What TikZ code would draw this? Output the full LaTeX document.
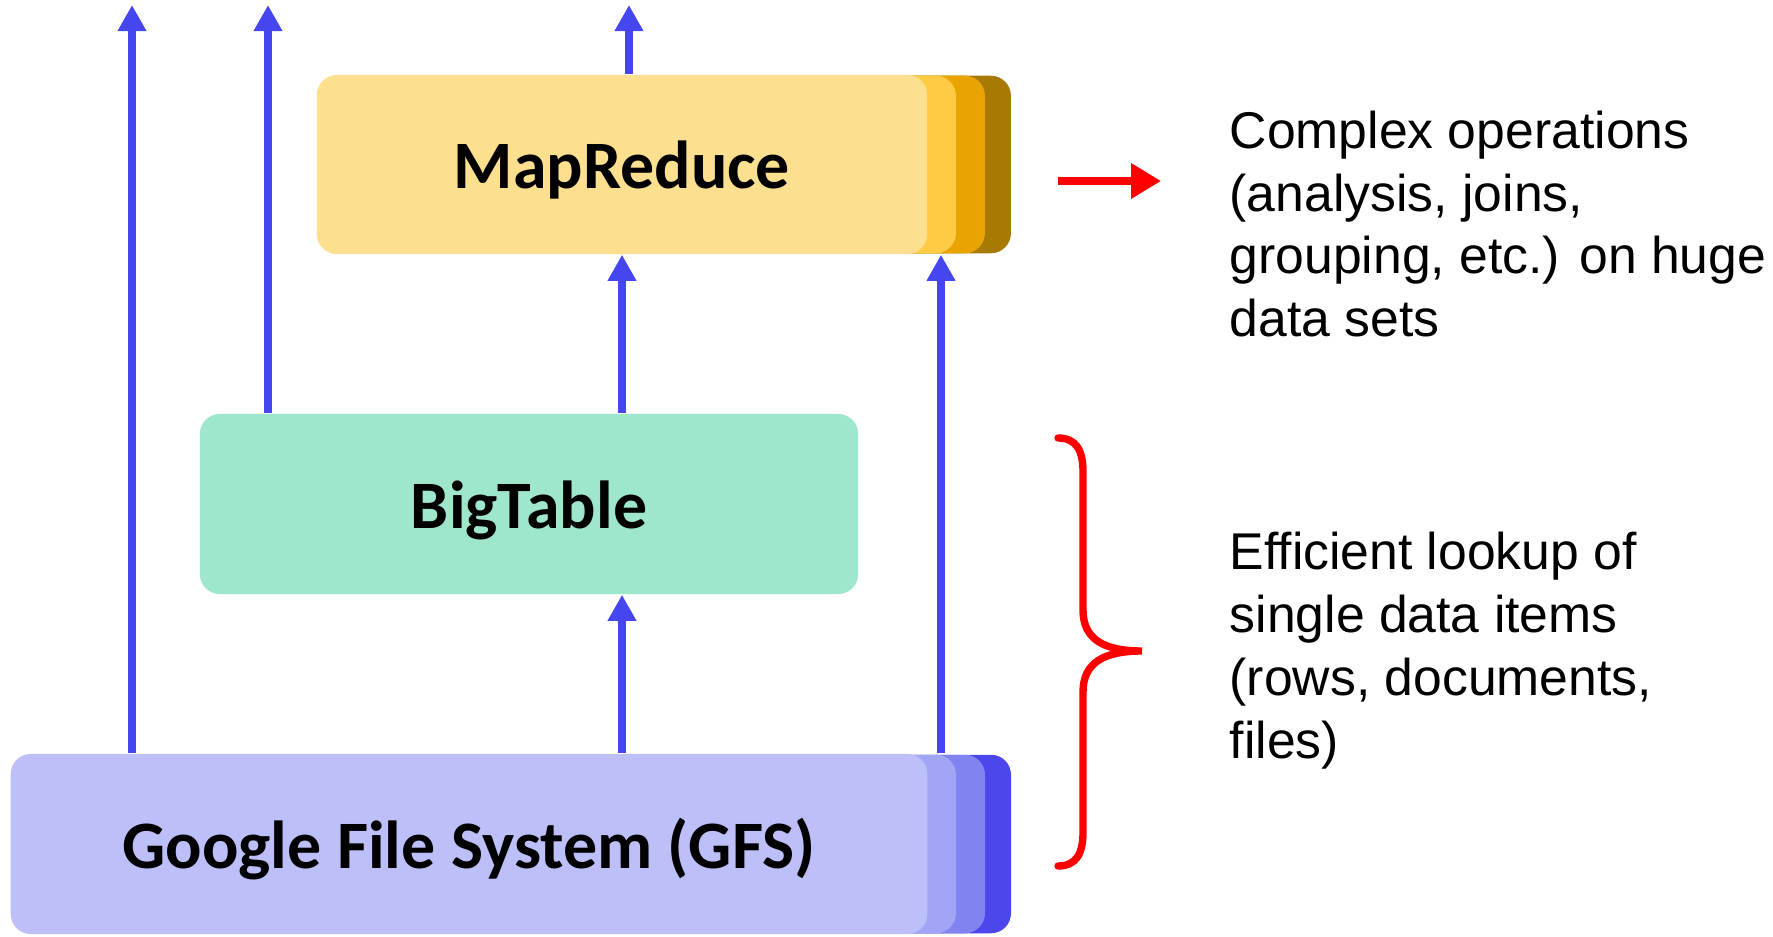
\documentclass[tikz,border=0pt]{standalone}
\usepackage{fontspec}
\setmainfont{Liberation Sans}
\newfontfamily\calibri{Carlito}
\usetikzlibrary{arrows.meta,backgrounds}

\definecolor{mrFront}{HTML}{FDE08F}
\definecolor{mrMid}{HTML}{FFCB45}
\definecolor{mrDeep}{HTML}{E9A302}
\definecolor{mrBack}{HTML}{A77A04}
\definecolor{btFill}{HTML}{9FE7CB}
\definecolor{gfsFront}{HTML}{BDBFF8}
\definecolor{gfsMid}{HTML}{A2A4F5}
\definecolor{gfsDeep}{HTML}{8183F0}
\definecolor{gfsBack}{HTML}{4C47EA}
\definecolor{flowBlue}{HTML}{4646F0}

\tikzset{
  layerbox/.style={inner sep=0pt, rounded corners=0.2cm,
    text height=0.62cm, text depth=0.14cm,
    font=\calibri\bfseries\fontsize{19.3}{23}\selectfont},
  edgelayer/.style={rounded corners=0.2cm},
  flow/.style={draw=flowBlue, line width=2pt, -{Triangle[width=0.27cm,length=0.26cm]}},
  hot/.style={draw=red, line width=2pt, -{Triangle[width=0.34cm,length=0.3cm]}},
  bracket/.style={draw=red, line width=2.1pt, line cap=round},
  note/.style={anchor=west, align=left, inner sep=0pt,
    font=\fontsize{14.7}{17.9}\selectfont},
}

\begin{document}
\begin{tikzpicture}[x=0.01cm, y=-0.01cm]
    \useasboundingbox (0,0) rectangle (1773,937);

    % The three layers of the stack
    \node[layerbox, fill=mrFront, minimum width=6.10cm, minimum height=1.79cm] (mr) at (622,164.5) {MapReduce};
    \node[layerbox, fill=btFill, minimum width=6.58cm, minimum height=1.80cm] (bt) at (529,504) {BigTable};
    \node[layerbox, fill=gfsFront, minimum width=9.16cm, minimum height=1.80cm] (gfs) at (469,844) {Google File System (GFS)};

    % Stacked edges behind MapReduce and GFS
    \begin{scope}[on background layer]
      \fill[mrBack, edgelayer] ([xshift=-0.6cm, yshift=0.015cm]mr.south east) rectangle ([xshift=0.83cm, yshift=-0.015cm]mr.north east);
      \fill[mrDeep, edgelayer] ([xshift=-0.6cm, yshift=0.015cm]mr.south east) rectangle ([xshift=0.57cm, yshift=-0.015cm]mr.north east);
      \fill[mrMid, edgelayer] ([xshift=-0.6cm, yshift=0.015cm]mr.south east) rectangle ([xshift=0.28cm, yshift=-0.015cm]mr.north east);
      \fill[gfsBack, edgelayer] ([xshift=-0.6cm, yshift=0.015cm]gfs.south east) rectangle ([xshift=0.83cm, yshift=-0.015cm]gfs.north east);
      \fill[gfsDeep, edgelayer] ([xshift=-0.6cm, yshift=0.015cm]gfs.south east) rectangle ([xshift=0.57cm, yshift=-0.015cm]gfs.north east);
      \fill[gfsMid, edgelayer] ([xshift=-0.6cm, yshift=0.015cm]gfs.south east) rectangle ([xshift=0.28cm, yshift=-0.015cm]gfs.north east);
    \end{scope}

    % Where the outgoing arrows end
    \coordinate (top1) at (132,5);
    \coordinate (top2) at (268,5);
    \coordinate (top3) at (629,5);
    \coordinate (side) at (941,500);

    % Blue data flow arrows
    \draw[flow] (gfs.north -| top1) -- (top1);
    \draw[flow] (bt.north -| top2) -- (top2);
    \draw[flow] (mr.north -| top3) -- (top3);
    \draw[flow] (bt.north -| mr.south) -- (mr.south);
    \draw[flow] (gfs.north -| mr.south) -- (bt.south -| mr.south);
    \draw[flow] (gfs.north -| side) -- (mr.south -| side);

    % Annotations on the right
    \node[note] (cx) at (1229,224) {Complex operations\\(analysis, joins,\\grouping, etc.) on huge\\data sets};
    \node[note] (lk) at (1229,651) {Efficient lookup of\\single data items\\(rows, documents,\\files)};

    \coordinate (ra1) at (1058,181);
    \coordinate (ra2) at (1161,181);
    \draw[hot] (ra1) -- (ra2);

    % Curly bracket next to BigTable and GFS
    \coordinate (br1) at (1058,438);
    \draw[bracket] (br1) .. controls (1076,438) and (1083,450) .. (1083,472)
      -- (1083,610) .. controls (1083,640) and (1105,651) .. (1142,651)
      .. controls (1105,651) and (1083,662) .. (1083,692)
      -- (1083,832) .. controls (1083,854) and (1076,866) .. (1058,866);
\end{tikzpicture}
\end{document}
